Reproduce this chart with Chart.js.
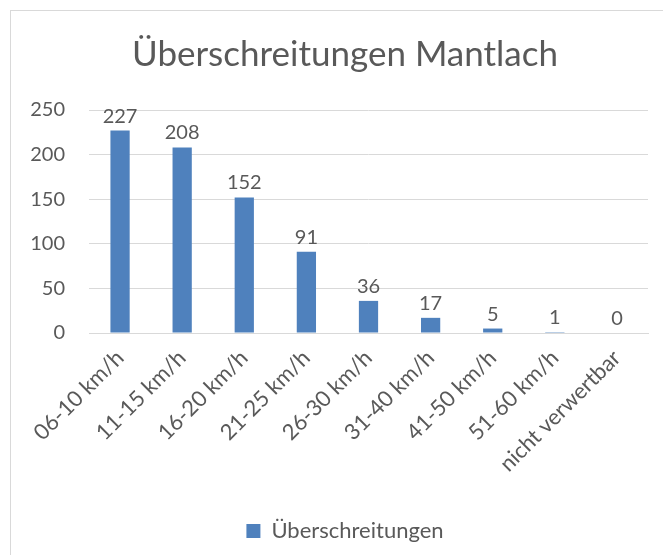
<!DOCTYPE html>
<html><head><meta charset="utf-8">
<script src="https://cdn.jsdelivr.net/npm/chart.js@4/dist/chart.umd.min.js"></script>
<style>
html,body{margin:0;padding:0;background:#fff;overflow:hidden;width:663px;height:555px;}
#frame{position:absolute;left:10px;top:10px;width:670px;height:560px;border:1px solid #d9d9d9;box-sizing:border-box;}
#wrap{position:absolute;left:10px;top:10px;width:670px;height:545px;}
</style></head>
<body>
<div id="frame"></div>
<div id="wrap"><canvas id="c" width="670" height="545"></canvas></div>
<script>
const categories = ["06-10 km/h","11-15 km/h","16-20 km/h","21-25 km/h","26-30 km/h","31-40 km/h","41-50 km/h","51-60 km/h","nicht verwertbar"];
const values = [227,208,152,91,36,17,5,1,0];
const seriesName = "Überschreitungen";
const titleText = "Überschreitungen Mantlach";
const yTicks = [0,50,100,150,200,250];

const FONT = "Lato, 'Open Sans', sans-serif";
const TXT = "#595959";

const valueLabels = {
  id:'valueLabels',
  afterDatasetsDraw(chart){
    const ctx = chart.ctx;
    const meta = chart.getDatasetMeta(0);
    ctx.save();
    ctx.font = "20px " + FONT;
    ctx.fillStyle = TXT;
    ctx.textAlign = 'center';
    ctx.textBaseline = 'alphabetic';
    meta.data.forEach((bar,i)=>{
      ctx.fillText(String(values[i]), bar.x, bar.y - 8);
    });
    ctx.restore();
  }
};

new Chart(document.getElementById('c'), {
  type:'bar',
  data:{labels:categories, datasets:[{label:seriesName, data:values, backgroundColor:'#4f81bd', borderWidth:0, barPercentage:0.62, categoryPercentage:0.5}]},
  options:{
    responsive:false, animation:false, devicePixelRatio:1,
    layout:{padding:{left:0,right:0,top:0,bottom:3}},
    plugins:{
      title:{display:true, text:titleText, color:TXT, font:{family:FONT,size:35,weight:'normal'}, padding:{top:24,bottom:34}},
      legend:{position:'bottom', labels:{color:TXT, font:{family:FONT,size:22}, boxWidth:14, boxHeight:14, padding:10}},
      tooltip:{enabled:false}
    },
    scales:{
      x:{
        grid:{display:false, drawTicks:false},
        border:{display:true,color:'#d9d9d9',width:1},
        ticks:{color:TXT, font:{family:FONT,size:22}, maxRotation:45, minRotation:45, padding:12, autoSkip:false},
        afterFit(s){ s.height = 177; }
      },
      y:{
        min:0, max:250,
        afterBuildTicks(s){ s.ticks = yTicks.map(v=>({value:v})); },
        grid:{color:'#d9d9d9', drawTicks:false, lineWidth:1},
        border:{display:false},
        ticks:{color:TXT, font:{family:FONT,size:20}, padding:24},
        afterFit(s){ s.width = 79; }
      },
      yRight:{
        position:'right', min:0, max:250,
        grid:{display:false, drawTicks:false},
        border:{display:false},
        ticks:{display:false},
        afterFit(s){ s.width = 32; }
      }
    }
  },
  plugins:[valueLabels]
});
</script>
</body></html>
